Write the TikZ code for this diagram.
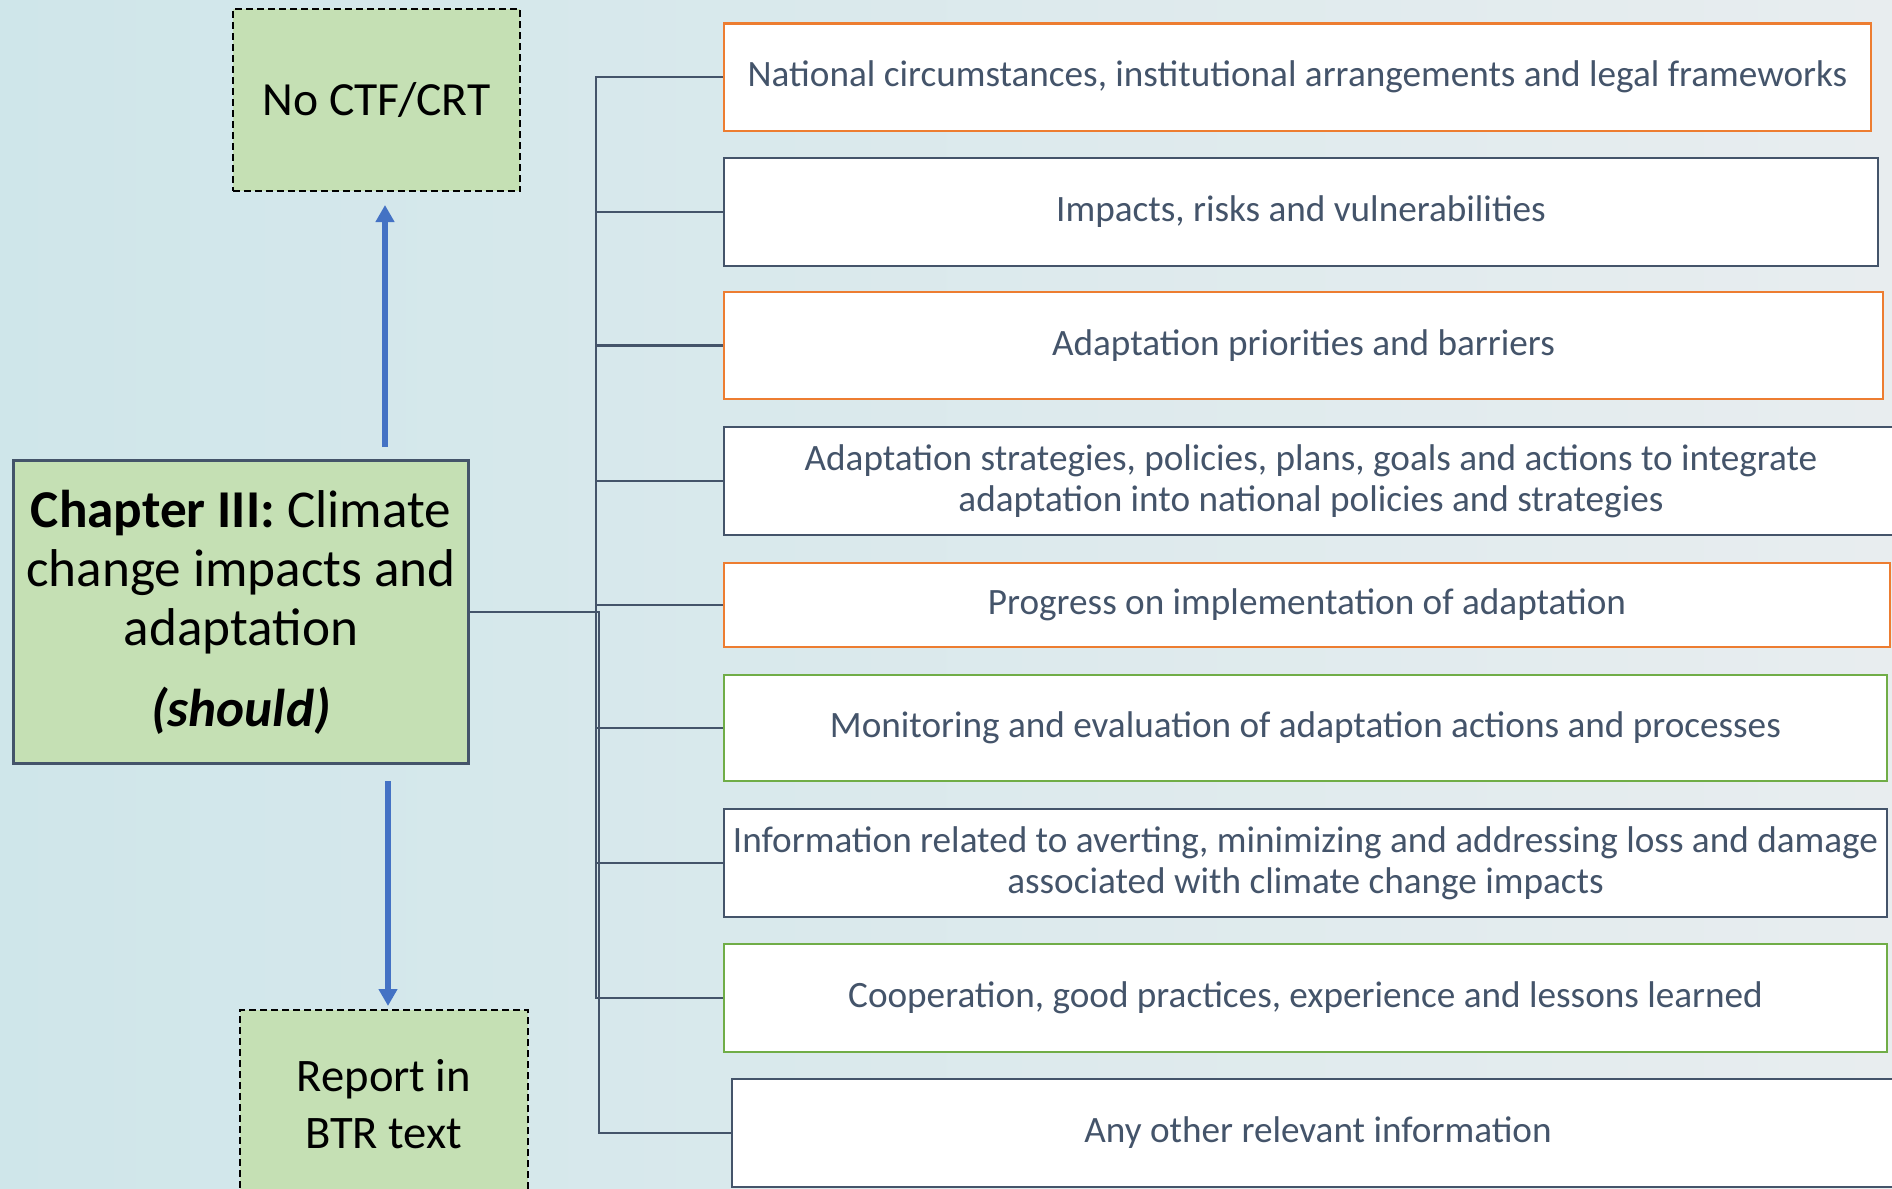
\documentclass[tikz,border=0pt]{standalone}
\usepackage{fontspec}
\setmainfont{Carlito}
\usetikzlibrary{arrows.meta}
\definecolor{slate}{HTML}{44546A}
\definecolor{accorange}{HTML}{ED7D31}
\definecolor{accgreen}{HTML}{70AD47}
\definecolor{boxgreen}{HTML}{C5E0B4}
\definecolor{arrowblue}{HTML}{4472C4}
\definecolor{bgleft}{HTML}{CFE6EA}
\definecolor{bgright}{HTML}{E8EDEF}
\begin{document}
\begin{tikzpicture}[x=0.5pt,y=-0.5pt,
  item/.style={draw=slate, fill=white, line width=1.25pt, inner sep=0pt,
    align=center, text=slate, font=\fontsize{18.6}{20.5}\selectfont},
  orangeitem/.style={item, draw=accorange},
  greenitem/.style={item, draw=accgreen},
  outcome/.style={draw=black, dash pattern=on 3.5pt off 2pt, line width=1.1pt, fill=boxgreen,
    inner sep=0pt, align=center},
  chapterbox/.style={draw=slate, line width=1.25pt, fill=boxgreen,
    inner sep=0pt, align=center, font=\fontsize{26.6}{29.5}\selectfont},
  link/.style={draw=slate, line width=1.1pt},
  bluearrow/.style={draw=arrowblue, line width=3pt,
    -{Triangle[width=9pt,length=8.5pt]}}]
\useasboundingbox (0,0) rectangle (1892,1189);
\clip (0,0) rectangle (1892,1189);
\shade[left color=bgleft, right color=bgright] (0,0) rectangle (1892,1189);

% left column: chapter box and its two outcomes
\node[outcome, font=\fontsize{23.8}{28.5}\selectfont, minimum width=143.75pt, minimum height=91pt] (noctf) at (376.5,100) {No CTF/CRT};
\node[chapterbox, minimum width=227.3pt, minimum height=151.3pt] (chap) at (241,612)
  {\textbf{Chapter III:} Climate\\change impacts and\\adaptation\\[11pt]\textbf{\textit{(should)}}};
\node[outcome, font=\fontsize{23.3}{28.5}\selectfont, minimum width=144pt, minimum height=94pt] (report) at (384,1104) {Report in\\BTR text};

\coordinate (upfrom) at (385,447);
\coordinate (upto) at (385,205);
\coordinate (downfrom) at (388,781);
\coordinate (downto) at (388,1006);
\draw[bluearrow] (upfrom) -- (upto);
\draw[bluearrow] (downfrom) -- (downto);

% right column: reporting elements
\node[orangeitem, minimum width=573.5pt, minimum height=53.75pt] (b1) at (1297.5,77.25)
  {National circumstances, institutional arrangements and legal frameworks};
\node[item, minimum width=577pt, minimum height=54pt] (b2) at (1301,212)
  {Impacts, risks and vulnerabilities};
\node[orangeitem, minimum width=579.5pt, minimum height=53.5pt] (b3) at (1303.5,345.5)
  {Adaptation priorities and barriers};
\node[item, minimum width=587pt, minimum height=54pt] (b4) at (1311,481)
  {Adaptation strategies, policies, plans, goals and actions to integrate\\adaptation into national policies and strategies};
\node[orangeitem, minimum width=583pt, minimum height=42pt] (b5) at (1307,605)
  {Progress on implementation of adaptation};
\node[greenitem, minimum width=581.5pt, minimum height=53pt] (b6) at (1305.5,728)
  {Monitoring and evaluation of adaptation actions and processes};
\node[item, minimum width=581.5pt, minimum height=54pt] (b7) at (1305.5,863)
  {Information related to averting, minimizing and addressing loss and damage\\associated with climate change impacts};
\node[greenitem, minimum width=581.5pt, minimum height=54pt] (b8) at (1305.5,998)
  {Cooperation, good practices, experience and lessons learned};
\node[item, minimum width=586pt, minimum height=54pt] (b9) at (1318,1133)
  {Any other relevant information};

% bracket connectors
\coordinate (trunk) at (596,0);
\coordinate (drop) at (599,0);
\draw[link] (b1.west) -- (b1.west -| trunk) -- (b8.west -| trunk) -- (b8.west);
\foreach \b in {b2,b3,b4,b5,b6,b7}
  \draw[link] (\b.west) -- (\b.west -| trunk);
\draw[link] (chap.east) -- (chap.east -| drop) -- (b9.west -| drop) -- (b9.west);
\end{tikzpicture}
\end{document}
